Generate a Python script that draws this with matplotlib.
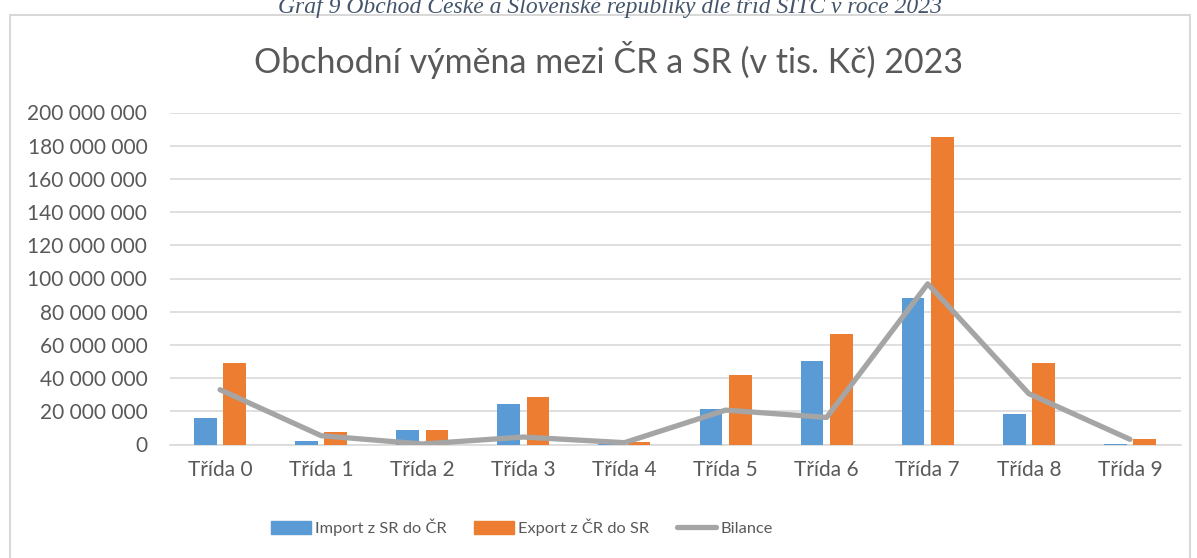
import matplotlib
matplotlib.use("Agg")
import matplotlib.pyplot as plt
from matplotlib.ticker import FuncFormatter, MultipleLocator
from matplotlib.patches import Rectangle
from matplotlib.lines import Line2D
import numpy as np

categories = ["Třída 0", "Třída 1", "Třída 2", "Třída 3", "Třída 4",
              "Třída 5", "Třída 6", "Třída 7", "Třída 8", "Třída 9"]
import_sr = [16_000_000, 2_000_000, 8_500_000, 24_200_000, 400_000,
             21_200_000, 50_300_000, 88_200_000, 18_400_000, 200_000]
export_cr = [49_000_000, 7_300_000, 8_800_000, 28_700_000, 1_500_000,
             41_900_000, 66_600_000, 185_000_000, 49_000_000, 3_300_000]
bilance = [33_000_000, 5_300_000, 300_000, 4_500_000, 1_100_000,
           20_700_000, 16_300_000, 96_800_000, 30_600_000, 3_100_000]

title = "Obchodní výměna mezi ČR a SR (v tis. Kč) 2023"
caption = "Graf 9 Obchod České a Slovenské republiky dle tříd SITC v roce 2023"

W, H = 1197, 558
fig = plt.figure(figsize=(W / 100, H / 100), dpi=100)
fig.patch.set_facecolor("white")

font = ["Lato", "DejaVu Sans"]
txt_col = "#595959"

# outer chart frame
fig.patches.append(Rectangle((10 / W, -0.1), (1190 - 10) / W, (H - 15) / H + 0.1,
                             transform=fig.transFigure, fill=False,
                             edgecolor="#D9D9D9", linewidth=1.5))
# caption (partly cut at the top, as in the source)
fig.text(0.51, 1 - 13 / H, caption, ha="center", va="baseline", fontsize=17,
         family="Liberation Serif", style="italic", color="#44546A")

ax = fig.add_axes([169.5 / W, 1 - 444.5 / H, (1180.5 - 169.5) / W, (444.5 - 112.5) / H])
x = np.arange(len(categories))
bw = 0.225
off = 0.145
ax.bar(x - off, import_sr, bw, color="#5B9BD5", zorder=3, label="Import z SR do ČR")
ax.bar(x + off, export_cr, bw, color="#ED7D31", zorder=3, label="Export z ČR do SR")
ax.plot(x, bilance, color="#A5A5A5", linewidth=3.8, zorder=4,
        solid_capstyle="round", solid_joinstyle="round", label="Bilance")

ax.set_xlim(-0.5, len(categories) - 0.5)
ax.set_ylim(0, 200_000_000)
ax.yaxis.set_major_locator(MultipleLocator(20_000_000))
ax.yaxis.set_major_formatter(FuncFormatter(lambda v, p: f"{int(v):,}".replace(",", " ")))
ax.set_xticks(x)
ax.set_xticklabels(categories)
ax.grid(axis="y", color="#D9D9D9", linewidth=1.2, zorder=0)
for s in ["top", "right", "left"]:
    ax.spines[s].set_visible(False)
ax.spines["bottom"].set_color("#D9D9D9")
ax.spines["bottom"].set_linewidth(1.2)
ax.tick_params(axis="both", length=0, colors=txt_col, labelsize=15)
ax.tick_params(axis="y", pad=16)
ax.tick_params(axis="x", pad=11)
for lab in ax.get_xticklabels() + ax.get_yticklabels():
    lab.set_family(font)

fig.text(0.508, 1 - 60 / H, title, ha="center", va="center", fontsize=24.5,
         color=txt_col, family=font)

handles = [Rectangle((0, 0), 1, 1, color="#5B9BD5"),
           Rectangle((0, 0), 1, 1, color="#ED7D31"),
           Line2D([0], [0], color="#A5A5A5", linewidth=3.8, solid_capstyle="round")]
labels = ["Import z SR do ČR", "Export z ČR do SR", "Bilance"]
leg = fig.legend(handles, labels, loc="center", bbox_to_anchor=(522 / W, 1 - 527 / H),
                 ncol=3, frameon=False, handlelength=2.4,
                 handleheight=0.85, handletextpad=0.25, columnspacing=1.7,
                 prop={"family": font, "size": 11.8})
for t in leg.get_texts():
    t.set_color(txt_col)

fig.savefig("out.png", dpi=100, facecolor="white")
